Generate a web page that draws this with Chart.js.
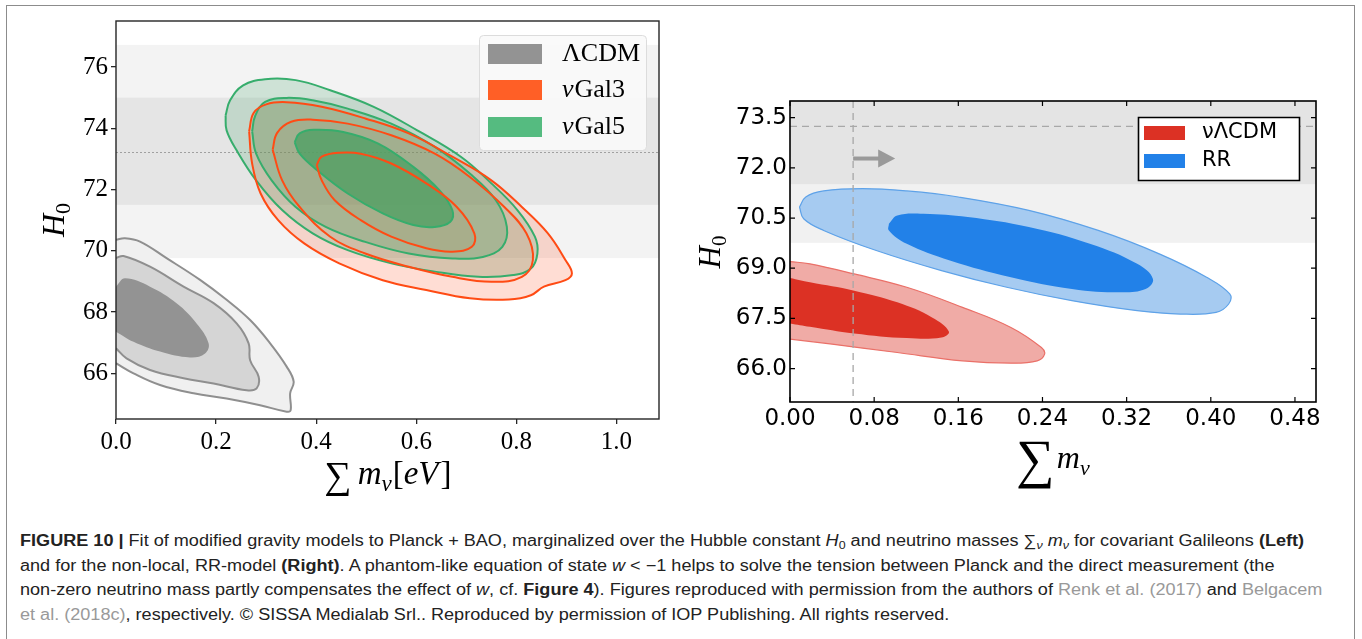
<!DOCTYPE html>
<html>
<head>
<meta charset="utf-8">
<script src="https://cdn.jsdelivr.net/npm/chart.js@4.4.1/dist/chart.umd.min.js"></script>
<style>
  body { margin: 0; background: #fff; width: 1362px; height: 639px; overflow: hidden; position: relative; }
  #frame { position: absolute; left: 6px; top: 5px; width: 1349px; height: 700px; border: 1.5px solid #8c8c8c; box-sizing: border-box; }
  #left { position: absolute; left: 0; top: 0; }
  #right { position: absolute; left: 680px; top: 0; }
  #caption { position: absolute; left: 20px; top: 529px; font-family: "Liberation Sans Narrow", "Liberation Sans", sans-serif;
    font-size: 16px; color: #222; white-space: nowrap; transform-origin: 0 0; }
  #caption div { height: 24.6px; line-height: 24.6px; }
  #caption sub { font-size: 11px; line-height: 0; vertical-align: -3px; }
  #caption b { font-weight: bold; }
  #caption .ref { color: #999; }
  #caption i { font-style: italic; }
</style>
</head>
<body>
<div id="frame"></div>
<canvas id="left" width="680" height="500"></canvas>
<canvas id="right" width="682" height="500"></canvas>
<div id="caption">
  <div id="cap1"><b>FIGURE 10 |</b> Fit of modified gravity models to Planck + BAO, marginalized over the Hubble constant <i>H</i><sub>0</sub> and neutrino masses ∑<sub><i>ν</i></sub> <i>m<sub>ν</sub></i> for covariant Galileons <b>(Left)</b></div>
  <div>and for the non-local, RR-model <b>(Right)</b>. A phantom-like equation of state <i>w</i> &lt; −1 helps to solve the tension between Planck and the direct measurement (the</div>
  <div>non-zero neutrino mass partly compensates the effect of <i>w</i>, cf. <b>Figure 4</b>). Figures reproduced with permission from the authors of <span class="ref">Renk et al. (2017)</span> and <span class="ref">Belgacem</span></div>
  <div><span class="ref">et al. (2018c)</span>, respectively. © SISSA Medialab Srl.. Reproduced by permission of IOP Publishing. All rights reserved.</div>
</div>
<script>
// ---- left panel: covariant Galileons, sum m_nu [eV] vs H0 ----
const leftXTicks = [0.0, 0.2, 0.4, 0.6, 0.8, 1.0];
const leftYTicks = [66, 68, 70, 72, 74, 76];
const leftXRange = [0, 1.085];
const leftYRange = [64.51, 77.5];
const h0Local = 73.24;
const h0Band1 = [71.5, 75.0];
const h0Band2 = [69.76, 76.72];
const leftLabels = ['ΛCDM', 'νGal3', 'νGal5'];

// contours as [sum m_nu, H0]
const lcdmOuter = [[0,70.36],[0.018,70.41],[0.048,70.30],[0.101,69.76],[0.168,69.05],[0.221,68.40],[0.268,67.74],[0.308,66.98],[0.341,66.22],[0.355,65.73],[0.348,65.35],[0.349,64.80],[0.341,64.75],[0.288,64.96],[0.221,65.18],[0.155,65.35],[0.088,65.62],[0.035,66.0],[0,66.33]];
const lcdmMid = [[0,69.76],[0.015,69.83],[0.068,69.48],[0.135,68.83],[0.195,68.29],[0.241,67.63],[0.265,66.98],[0.268,66.43],[0.285,65.89],[0.281,65.51],[0.261,65.45],[0.195,65.67],[0.135,65.84],[0.068,66.11],[0.021,66.49],[0,66.82]];
const lcdmInner = [[0,68.83],[0.018,69.10],[0.068,68.83],[0.121,68.29],[0.161,67.63],[0.185,66.98],[0.178,66.65],[0.148,66.52],[0.088,66.71],[0.035,67.03],[0,67.36]];

const gal3Outer = [[0.266,73.9],[0.275,74.5],[0.300,74.78],[0.341,74.85],[0.411,74.70],[0.498,74.32],[0.585,73.83],[0.672,73.07],[0.750,72.30],[0.811,71.43],[0.863,70.57],[0.898,69.70],[0.911,69.26],[0.898,69.04],[0.855,68.83],[0.829,68.55],[0.785,68.41],[0.707,68.45],[0.620,68.72],[0.533,69.04],[0.446,69.59],[0.376,70.24],[0.324,71.00],[0.289,71.87],[0.272,72.85],[0.266,73.9]];
const gal3Mid = [[0.313,73.30],[0.322,73.85],[0.350,74.21],[0.393,74.28],[0.463,74.15],[0.550,73.77],[0.637,73.17],[0.707,72.41],[0.776,71.43],[0.820,70.57],[0.833,69.70],[0.811,69.15],[0.750,68.99],[0.672,69.15],[0.585,69.48],[0.498,69.91],[0.428,70.46],[0.367,71.43],[0.332,72.30],[0.313,73.30]];
const gal3Inner = [[0.401,72.80],[0.411,73.07],[0.446,73.20],[0.489,73.17],[0.550,72.85],[0.620,72.20],[0.681,71.43],[0.716,70.57],[0.711,70.13],[0.672,69.97],[0.620,70.08],[0.550,70.46],[0.489,71.00],[0.437,71.65],[0.411,72.30],[0.401,72.80]];

const gal5Outer = [[0.219,74.42],[0.228,74.91],[0.254,75.40],[0.298,75.60],[0.359,75.57],[0.428,75.24],[0.515,74.70],[0.602,73.93],[0.689,73.07],[0.750,72.20],[0.802,71.33],[0.837,70.46],[0.842,69.91],[0.829,69.42],[0.794,69.21],[0.724,69.15],[0.637,69.32],[0.550,69.59],[0.463,70.02],[0.393,70.57],[0.332,71.33],[0.280,72.30],[0.241,73.28],[0.221,73.93],[0.219,74.42]];
const gal5Mid = [[0.272,73.90],[0.278,74.40],[0.298,74.86],[0.341,74.99],[0.393,74.91],[0.463,74.64],[0.550,74.15],[0.637,73.39],[0.707,72.52],[0.759,71.65],[0.781,70.78],[0.772,70.13],[0.733,69.80],[0.672,69.75],[0.585,69.91],[0.498,70.29],[0.419,70.78],[0.359,71.43],[0.311,72.30],[0.280,73.17],[0.272,73.90]];
const gal5Inner = [[0.357,73.55],[0.367,73.83],[0.395,73.95],[0.454,73.88],[0.524,73.50],[0.594,72.74],[0.646,71.98],[0.672,71.33],[0.668,70.95],[0.637,70.78],[0.594,70.84],[0.533,71.22],[0.463,71.87],[0.402,72.63],[0.367,73.17],[0.357,73.55]];

// ---- right panel: non-local RR model ----
const rightXTicks = [0.00, 0.08, 0.16, 0.24, 0.32, 0.40, 0.48];
const rightYTicks = [66.0, 67.5, 69.0, 70.5, 72.0, 73.5];
const rightXRange = [0, 0.5];
const rightYRange = [65.0, 74.0];
const mnuMin = 0.06;
const arrowX = [0.06, 0.1];
const arrowY = 72.28;
const rightLabels = ['νΛCDM', 'RR'];

const rrOuter = [[0.009,70.83],[0.015,71.13],[0.032,71.31],[0.069,71.38],[0.111,71.31],[0.160,71.13],[0.227,70.73],[0.293,70.13],[0.351,69.43],[0.396,68.73],[0.418,68.23],[0.417,67.93],[0.405,67.68],[0.371,67.63],[0.330,67.73],[0.268,68.03],[0.206,68.43],[0.144,68.93],[0.082,69.53],[0.032,70.13],[0.013,70.48],[0.009,70.83]];
const rrInner = [[0.094,70.33],[0.102,70.58],[0.127,70.63],[0.169,70.53],[0.227,70.23],[0.285,69.73],[0.330,69.13],[0.345,68.68],[0.338,68.38],[0.314,68.28],[0.268,68.38],[0.210,68.73],[0.152,69.23],[0.111,69.73],[0.094,70.13],[0.094,70.33]];
const nulcdmOuter = [[0,69.20],[0.019,69.13],[0.061,68.83],[0.111,68.43],[0.164,67.83],[0.210,67.23],[0.239,66.63],[0.242,66.43],[0.235,66.23],[0.210,66.16],[0.164,66.23],[0.102,66.48],[0.040,66.73],[0,66.88]];
const nulcdmInner = [[0,68.71],[0.019,68.58],[0.061,68.33],[0.102,67.98],[0.135,67.53],[0.151,67.11],[0.144,66.93],[0.111,66.91],[0.061,67.05],[0.019,67.25],[0,67.35]];

function contour(pts, fill, line, width) {
  return {
    data: pts.map(p => ({ x: p[0], y: p[1] })),
    showLine: true,
    fill: fill ? 'shape' : false,
    backgroundColor: fill || 'transparent',
    borderColor: line || 'transparent',
    borderWidth: width || 0,
    pointRadius: 0,
    tension: 0.4
  };
}
// first in list is drawn first (underneath)
function ordered(list) {
  list.forEach((d, i) => { d.order = list.length - i; });
  return list;
}

const bandsPlugin = {
  id: 'bands',
  beforeDatasetsDraw(chart, args, o) {
    const { ctx, chartArea: a, scales: { y } } = chart;
    ctx.save();
    ctx.beginPath(); ctx.rect(a.left, a.top, a.width, a.height); ctx.clip();
    o.bands.forEach(b => {
      const y1 = y.getPixelForValue(b.range[1]), y0 = y.getPixelForValue(b.range[0]);
      ctx.fillStyle = b.color;
      ctx.fillRect(a.left, y1, a.width, y0 - y1);
    });
    if (o.dotted) {
      const yy = Math.round(y.getPixelForValue(o.dotted)) + 0.5;
      ctx.strokeStyle = '#a0a0a0'; ctx.lineWidth = 1; ctx.setLineDash([2, 2]);
      ctx.beginPath(); ctx.moveTo(a.left, yy); ctx.lineTo(a.right, yy); ctx.stroke();
    }
    ctx.restore();
  }
};

const frameBoxPlugin = {
  id: 'frameBox',
  afterDraw(chart, args, o) {
    const { ctx, chartArea: a, scales: { x, y } } = chart;
    ctx.save();
    ctx.strokeStyle = o.color; ctx.lineWidth = o.width;
    if (o.inward) {
      ctx.lineWidth = 1.2;
      x.ticks.forEach(t => {
        const px = x.getPixelForValue(t.value);
        ctx.beginPath();
        ctx.moveTo(px, a.bottom); ctx.lineTo(px, a.bottom - o.inward);
        ctx.moveTo(px, a.top); ctx.lineTo(px, a.top + o.inward);
        ctx.stroke();
      });
      y.ticks.forEach(t => {
        const py = y.getPixelForValue(t.value);
        ctx.beginPath();
        ctx.moveTo(a.left, py); ctx.lineTo(a.left + o.inward, py);
        ctx.moveTo(a.right, py); ctx.lineTo(a.right - o.inward, py);
        ctx.stroke();
      });
      ctx.lineWidth = o.width;
    }
    ctx.strokeRect(a.left, a.top, a.width, a.height);
    ctx.restore();
  }
};

// axis titles with sub/superscripts, drawn as text pieces
const mathTitlesPlugin = {
  id: 'mathTitles',
  afterDraw(chart, args, o) {
    const ctx = chart.ctx;
    o.items.forEach(it => {
      ctx.save();
      ctx.translate(it.x, it.y);
      if (it.rotate) ctx.rotate(it.rotate);
      let w = 0;
      it.parts.forEach(p => { ctx.font = p.font; w += ctx.measureText(p.t).width + (p.gap || 0); });
      let cx = -w / 2;
      ctx.fillStyle = '#000';
      ctx.textBaseline = 'alphabetic';
      it.parts.forEach(p => {
        ctx.font = p.font;
        ctx.fillText(p.t, cx, p.dy || 0);
        cx += ctx.measureText(p.t).width + (p.gap || 0);
      });
      ctx.restore();
    });
  }
};

const boxLegendPlugin = {
  id: 'boxLegend',
  afterDraw(chart, args, o) {
    const ctx = chart.ctx;
    ctx.save();
    ctx.beginPath();
    if (ctx.roundRect) ctx.roundRect(o.box[0], o.box[1], o.box[2], o.box[3], o.radius || 0);
    else ctx.rect(o.box[0], o.box[1], o.box[2], o.box[3]);
    ctx.fillStyle = o.bg; ctx.fill();
    ctx.strokeStyle = o.border; ctx.lineWidth = o.borderWidth; ctx.stroke();
    o.labels.forEach((lab, i) => {
      const cy = o.rows[i];
      ctx.fillStyle = o.colors[i];
      ctx.fillRect(o.patch[0], cy - o.patch[2] / 2, o.patch[1], o.patch[2]);
      ctx.fillStyle = '#000';
      ctx.textBaseline = 'middle';
      let tx = o.textX;
      if (o.mathNu && lab.startsWith('ν')) {
        ctx.font = 'italic ' + o.font;
        ctx.fillText('ν', tx, cy);
        tx += ctx.measureText('ν').width + 1;
        lab = lab.slice(1);
      }
      ctx.font = o.font;
      ctx.fillText(lab, tx, cy);
    });
    ctx.restore();
  }
};

const arrowPlugin = {
  id: 'arrowMark',
  afterDatasetsDraw(chart, args, o) {
    if (!o.on) return;
    const { ctx, chartArea: a, scales: { x, y } } = chart;
    ctx.save();
    ctx.strokeStyle = '#a8a8a8'; ctx.lineWidth = 1.3; ctx.setLineDash([7, 5]);
    const vx = x.getPixelForValue(mnuMin);
    ctx.beginPath(); ctx.moveTo(vx, a.top); ctx.lineTo(vx, a.bottom); ctx.stroke();
    const hy = y.getPixelForValue(h0Local);
    ctx.beginPath(); ctx.moveTo(a.left, hy); ctx.lineTo(a.right, hy); ctx.stroke();
    ctx.setLineDash([]);
    const x0 = x.getPixelForValue(arrowX[0]), x1 = x.getPixelForValue(arrowX[1]), ay = y.getPixelForValue(arrowY);
    ctx.strokeStyle = '#9a9a9a'; ctx.fillStyle = '#9a9a9a'; ctx.lineWidth = 4;
    ctx.beginPath(); ctx.moveTo(x0, ay); ctx.lineTo(x1 - 14, ay); ctx.stroke();
    ctx.beginPath(); ctx.moveTo(x1 - 17, ay - 9); ctx.lineTo(x1, ay); ctx.lineTo(x1 - 17, ay + 9); ctx.closePath(); ctx.fill();
    ctx.restore();
  }
};

function axis(range, ticks, fmt, font, extra) {
  return Object.assign({
    type: 'linear', min: range[0], max: range[1],
    afterBuildTicks: s => { s.ticks = ticks.map(v => ({ value: v })); },
    ticks: { callback: fmt, font: font, color: '#000', autoSkip: false, maxRotation: 0 },
    border: { display: false }
  }, extra);
}

const serifTick = { family: 'Liberation Serif', size: 25 };
const sansTick = { family: 'DejaVu Sans', size: 23 };

// ---------- left chart ----------
new Chart(document.getElementById('left'), {
  type: 'scatter',
  data: {
    datasets: ordered([
      contour(lcdmOuter, '#f0f0f0', '#8f8f8f', 2),
      contour(lcdmMid, '#d5d5d5', '#8f8f8f', 2),
      contour(lcdmInner, '#939393', null, 0),
      contour(gal3Outer, 'rgba(255,100,60,0.22)', null, 0),
      contour(gal3Mid, 'rgba(255,100,60,0.12)', null, 0),
      contour(gal3Inner, 'rgba(255,100,60,0.12)', null, 0),
      contour(gal5Outer, 'rgba(60,160,100,0.2)', '#36ad6c', 2),
      contour(gal5Mid, 'rgba(60,160,100,0.27)', '#36ad6c', 2),
      contour(gal5Inner, 'rgba(80,160,100,0.8)', '#36ad6c', 2),
      contour(gal3Outer, null, '#ff4b14', 2),
      contour(gal3Mid, null, '#ff4b14', 2),
      contour(gal3Inner, null, '#ff4b14', 2)
    ])
  },
  options: {
    responsive: false, animation: false, events: [],
    layout: { padding: { left: 0, top: 21, right: 21, bottom: 0 } },
    scales: {
      x: axis(leftXRange, leftXTicks, v => v.toFixed(1), serifTick, {
        grid: { display: true, drawOnChartArea: false, drawTicks: true, tickLength: 5, color: '#262626', lineWidth: 1.3 },
        afterFit: s => { s.height = 81; }
      }),
      y: axis(leftYRange, leftYTicks, v => v.toFixed(0), serifTick, {
        grid: { display: true, drawOnChartArea: false, drawTicks: true, tickLength: 5, color: '#262626', lineWidth: 1.3 },
        afterFit: s => { s.width = 116; }
      })
    },
    plugins: {
      legend: { display: false }, tooltip: { enabled: false },
      bands: { bands: [{ range: h0Band2, color: '#f3f3f3' }, { range: h0Band1, color: '#e5e5e5' }], dotted: h0Local },
      frameBox: { color: '#262626', width: 1.4 },
      boxLegend: {
        box: [479.5, 35.5, 167, 115], radius: 4, bg: 'rgba(250,250,250,0.92)', border: '#dcdcdc', borderWidth: 1,
        labels: leftLabels, colors: ['#939393', '#ff5f26', '#55bb80'], rows: [54, 90, 127],
        patch: [488, 54, 20], textX: 562, font: '26px "Liberation Serif"', mathNu: true
      },
      mathTitles: { items: [
        { x: 64, y: 220, rotate: -Math.PI / 2, parts: [
          { t: 'H', font: 'italic 32px "Liberation Serif"' },
          { t: '0', font: '22px "Liberation Serif"', dy: 6 } ] },
        { x: 388, y: 484, parts: [
          { t: '∑', font: '38px "Liberation Serif"', dy: 4, gap: 6 },
          { t: 'm', font: 'italic 33px "Liberation Serif"' },
          { t: 'ν', font: 'italic 23px "Liberation Serif"', dy: 7, gap: 1 },
          { t: '[', font: '33px "Liberation Serif"' },
          { t: 'eV', font: 'italic 33px "Liberation Serif"', gap: 2 },
          { t: ']', font: '33px "Liberation Serif"' } ] }
      ] },
      arrowMark: { on: false }
    }
  },
  plugins: [bandsPlugin, frameBoxPlugin, mathTitlesPlugin, boxLegendPlugin, arrowPlugin]
});

// ---------- right chart ----------
new Chart(document.getElementById('right'), {
  type: 'scatter',
  data: {
    datasets: ordered([
      contour(rrOuter, '#a6cbf1', '#5ea2e8', 1.2),
      contour(rrInner, '#2281e8', null, 0),
      contour(nulcdmOuter, '#f0aba6', '#ea7068', 1.2),
      contour(nulcdmInner, '#dc3124', null, 0)
    ])
  },
  options: {
    responsive: false, animation: false, events: [],
    layout: { padding: { left: 0, top: 101, right: 46, bottom: 0 } },
    scales: {
      x: axis(rightXRange, rightXTicks, v => v.toFixed(2), sansTick, {
        grid: { display: false, drawTicks: false },
        afterFit: s => { s.height = 98; }
      }),
      y: axis(rightYRange, rightYTicks, v => v.toFixed(1), sansTick, {
        grid: { display: false, drawTicks: false },
        afterFit: s => { s.width = 110; }
      })
    },
    plugins: {
      legend: { display: false }, tooltip: { enabled: false },
      bands: { bands: [{ range: [h0Band1[0], 76], color: '#e4e4e4' }, { range: [h0Band2[0], h0Band1[0]], color: '#f1f1f1' }] },
      frameBox: { color: '#000', width: 1.6, inward: 5 },
      boxLegend: {
        box: [458.5, 117.5, 161, 63], radius: 0, bg: '#fff', border: '#000', borderWidth: 1.6,
        labels: rightLabels, colors: ['#dc3124', '#2281e8'], rows: [133, 161],
        patch: [464, 41, 14], textX: 522, font: '21px "DejaVu Sans"', mathNu: false
      },
      mathTitles: { items: [
        { x: 40, y: 252, rotate: -Math.PI / 2, parts: [
          { t: 'H', font: 'italic 31px "Liberation Serif"' },
          { t: '0', font: '21px "Liberation Serif"', dy: 6 } ] },
        { x: 373, y: 468, parts: [
          { t: '∑', font: '54px "Liberation Serif"', dy: 9, gap: 2 },
          { t: 'm', font: 'italic 32px "Liberation Serif"' },
          { t: 'ν', font: 'italic 22px "Liberation Serif"', dy: 7 } ] }
      ] },
      arrowMark: { on: true }
    }
  },
  plugins: [bandsPlugin, frameBoxPlugin, mathTitlesPlugin, boxLegendPlugin, arrowPlugin]
});

// stretch caption lines to the column width of the page
const cap = document.getElementById('caption');
const w1 = document.getElementById('cap1').scrollWidth;
cap.style.transform = 'scaleX(' + (1302 / w1) + ')';
</script>
</body>
</html>
